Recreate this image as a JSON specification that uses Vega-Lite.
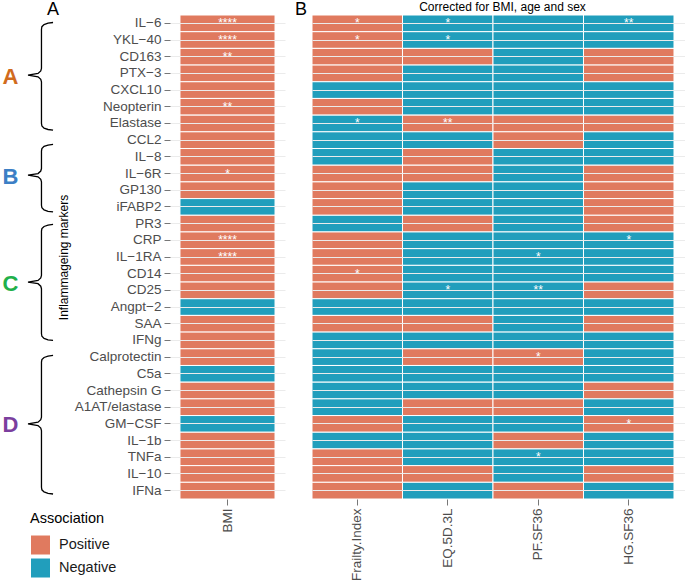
{
  "$schema": "https://vega.github.io/schema/vega-lite/v6.json",
  "padding": {"left": 0, "top": 0, "right": 0, "bottom": 0},
  "bounds": "flush",
  "spacing": 27,
  "config": {"view": {"stroke": null}, "font": "Liberation Sans"},
  "resolve": {"scale": {"color": "shared", "x": "independent", "y": "independent"}},
  "datasets": {
    "cells": [
      {"m":"IL−6","v":"BMI","a":"Positive","s":"****"},
      {"m":"YKL−40","v":"BMI","a":"Positive","s":"****"},
      {"m":"CD163","v":"BMI","a":"Positive","s":"**"},
      {"m":"PTX−3","v":"BMI","a":"Positive"},
      {"m":"CXCL10","v":"BMI","a":"Positive"},
      {"m":"Neopterin","v":"BMI","a":"Positive","s":"**"},
      {"m":"Elastase","v":"BMI","a":"Positive"},
      {"m":"CCL2","v":"BMI","a":"Positive"},
      {"m":"IL−8","v":"BMI","a":"Positive"},
      {"m":"IL−6R","v":"BMI","a":"Positive","s":"*"},
      {"m":"GP130","v":"BMI","a":"Positive"},
      {"m":"iFABP2","v":"BMI","a":"Negative"},
      {"m":"PR3","v":"BMI","a":"Positive"},
      {"m":"CRP","v":"BMI","a":"Positive","s":"****"},
      {"m":"IL−1RA","v":"BMI","a":"Positive","s":"****"},
      {"m":"CD14","v":"BMI","a":"Positive"},
      {"m":"CD25","v":"BMI","a":"Positive"},
      {"m":"Angpt−2","v":"BMI","a":"Negative"},
      {"m":"SAA","v":"BMI","a":"Positive"},
      {"m":"IFNg","v":"BMI","a":"Positive"},
      {"m":"Calprotectin","v":"BMI","a":"Positive"},
      {"m":"C5a","v":"BMI","a":"Negative"},
      {"m":"Cathepsin G","v":"BMI","a":"Positive"},
      {"m":"A1AT/elastase","v":"BMI","a":"Positive"},
      {"m":"GM−CSF","v":"BMI","a":"Negative"},
      {"m":"IL−1b","v":"BMI","a":"Positive"},
      {"m":"TNFa","v":"BMI","a":"Positive"},
      {"m":"IL−10","v":"BMI","a":"Positive"},
      {"m":"IFNa","v":"BMI","a":"Positive"},

      {"m":"IL−6","v":"Frailty.Index","a":"Positive","s":"*"},
      {"m":"IL−6","v":"EQ.5D.3L","a":"Negative","s":"*"},
      {"m":"IL−6","v":"PF.SF36","a":"Negative"},
      {"m":"IL−6","v":"HG.SF36","a":"Negative","s":"**"},
      {"m":"YKL−40","v":"Frailty.Index","a":"Positive","s":"*"},
      {"m":"YKL−40","v":"EQ.5D.3L","a":"Negative","s":"*"},
      {"m":"YKL−40","v":"PF.SF36","a":"Negative"},
      {"m":"YKL−40","v":"HG.SF36","a":"Negative"},
      {"m":"CD163","v":"Frailty.Index","a":"Positive"},
      {"m":"CD163","v":"EQ.5D.3L","a":"Positive"},
      {"m":"CD163","v":"PF.SF36","a":"Negative"},
      {"m":"CD163","v":"HG.SF36","a":"Positive"},
      {"m":"PTX−3","v":"Frailty.Index","a":"Positive"},
      {"m":"PTX−3","v":"EQ.5D.3L","a":"Negative"},
      {"m":"PTX−3","v":"PF.SF36","a":"Negative"},
      {"m":"PTX−3","v":"HG.SF36","a":"Positive"},
      {"m":"CXCL10","v":"Frailty.Index","a":"Negative"},
      {"m":"CXCL10","v":"EQ.5D.3L","a":"Negative"},
      {"m":"CXCL10","v":"PF.SF36","a":"Negative"},
      {"m":"CXCL10","v":"HG.SF36","a":"Negative"},
      {"m":"Neopterin","v":"Frailty.Index","a":"Positive"},
      {"m":"Neopterin","v":"EQ.5D.3L","a":"Negative"},
      {"m":"Neopterin","v":"PF.SF36","a":"Negative"},
      {"m":"Neopterin","v":"HG.SF36","a":"Negative"},
      {"m":"Elastase","v":"Frailty.Index","a":"Negative","s":"*"},
      {"m":"Elastase","v":"EQ.5D.3L","a":"Positive","s":"**"},
      {"m":"Elastase","v":"PF.SF36","a":"Positive"},
      {"m":"Elastase","v":"HG.SF36","a":"Positive"},
      {"m":"CCL2","v":"Frailty.Index","a":"Negative"},
      {"m":"CCL2","v":"EQ.5D.3L","a":"Negative"},
      {"m":"CCL2","v":"PF.SF36","a":"Positive"},
      {"m":"CCL2","v":"HG.SF36","a":"Negative"},
      {"m":"IL−8","v":"Frailty.Index","a":"Negative"},
      {"m":"IL−8","v":"EQ.5D.3L","a":"Positive"},
      {"m":"IL−8","v":"PF.SF36","a":"Negative"},
      {"m":"IL−8","v":"HG.SF36","a":"Negative"},
      {"m":"IL−6R","v":"Frailty.Index","a":"Positive"},
      {"m":"IL−6R","v":"EQ.5D.3L","a":"Positive"},
      {"m":"IL−6R","v":"PF.SF36","a":"Negative"},
      {"m":"IL−6R","v":"HG.SF36","a":"Positive"},
      {"m":"GP130","v":"Frailty.Index","a":"Positive"},
      {"m":"GP130","v":"EQ.5D.3L","a":"Negative"},
      {"m":"GP130","v":"PF.SF36","a":"Negative"},
      {"m":"GP130","v":"HG.SF36","a":"Positive"},
      {"m":"iFABP2","v":"Frailty.Index","a":"Positive"},
      {"m":"iFABP2","v":"EQ.5D.3L","a":"Negative"},
      {"m":"iFABP2","v":"PF.SF36","a":"Negative"},
      {"m":"iFABP2","v":"HG.SF36","a":"Positive"},
      {"m":"PR3","v":"Frailty.Index","a":"Negative"},
      {"m":"PR3","v":"EQ.5D.3L","a":"Positive"},
      {"m":"PR3","v":"PF.SF36","a":"Negative"},
      {"m":"PR3","v":"HG.SF36","a":"Positive"},
      {"m":"CRP","v":"Frailty.Index","a":"Positive"},
      {"m":"CRP","v":"EQ.5D.3L","a":"Negative"},
      {"m":"CRP","v":"PF.SF36","a":"Negative"},
      {"m":"CRP","v":"HG.SF36","a":"Negative","s":"*"},
      {"m":"IL−1RA","v":"Frailty.Index","a":"Positive"},
      {"m":"IL−1RA","v":"EQ.5D.3L","a":"Negative"},
      {"m":"IL−1RA","v":"PF.SF36","a":"Negative","s":"*"},
      {"m":"IL−1RA","v":"HG.SF36","a":"Negative"},
      {"m":"CD14","v":"Frailty.Index","a":"Positive","s":"*"},
      {"m":"CD14","v":"EQ.5D.3L","a":"Negative"},
      {"m":"CD14","v":"PF.SF36","a":"Negative"},
      {"m":"CD14","v":"HG.SF36","a":"Negative"},
      {"m":"CD25","v":"Frailty.Index","a":"Positive"},
      {"m":"CD25","v":"EQ.5D.3L","a":"Negative","s":"*"},
      {"m":"CD25","v":"PF.SF36","a":"Negative","s":"**"},
      {"m":"CD25","v":"HG.SF36","a":"Positive"},
      {"m":"Angpt−2","v":"Frailty.Index","a":"Negative"},
      {"m":"Angpt−2","v":"EQ.5D.3L","a":"Negative"},
      {"m":"Angpt−2","v":"PF.SF36","a":"Negative"},
      {"m":"Angpt−2","v":"HG.SF36","a":"Negative"},
      {"m":"SAA","v":"Frailty.Index","a":"Positive"},
      {"m":"SAA","v":"EQ.5D.3L","a":"Positive"},
      {"m":"SAA","v":"PF.SF36","a":"Negative"},
      {"m":"SAA","v":"HG.SF36","a":"Positive"},
      {"m":"IFNg","v":"Frailty.Index","a":"Negative"},
      {"m":"IFNg","v":"EQ.5D.3L","a":"Negative"},
      {"m":"IFNg","v":"PF.SF36","a":"Negative"},
      {"m":"IFNg","v":"HG.SF36","a":"Negative"},
      {"m":"Calprotectin","v":"Frailty.Index","a":"Negative"},
      {"m":"Calprotectin","v":"EQ.5D.3L","a":"Positive"},
      {"m":"Calprotectin","v":"PF.SF36","a":"Positive","s":"*"},
      {"m":"Calprotectin","v":"HG.SF36","a":"Negative"},
      {"m":"C5a","v":"Frailty.Index","a":"Negative"},
      {"m":"C5a","v":"EQ.5D.3L","a":"Negative"},
      {"m":"C5a","v":"PF.SF36","a":"Negative"},
      {"m":"C5a","v":"HG.SF36","a":"Negative"},
      {"m":"Cathepsin G","v":"Frailty.Index","a":"Negative"},
      {"m":"Cathepsin G","v":"EQ.5D.3L","a":"Negative"},
      {"m":"Cathepsin G","v":"PF.SF36","a":"Negative"},
      {"m":"Cathepsin G","v":"HG.SF36","a":"Positive"},
      {"m":"A1AT/elastase","v":"Frailty.Index","a":"Negative"},
      {"m":"A1AT/elastase","v":"EQ.5D.3L","a":"Positive"},
      {"m":"A1AT/elastase","v":"PF.SF36","a":"Positive"},
      {"m":"A1AT/elastase","v":"HG.SF36","a":"Negative"},
      {"m":"GM−CSF","v":"Frailty.Index","a":"Positive"},
      {"m":"GM−CSF","v":"EQ.5D.3L","a":"Negative"},
      {"m":"GM−CSF","v":"PF.SF36","a":"Negative"},
      {"m":"GM−CSF","v":"HG.SF36","a":"Positive","s":"*"},
      {"m":"IL−1b","v":"Frailty.Index","a":"Negative"},
      {"m":"IL−1b","v":"EQ.5D.3L","a":"Negative"},
      {"m":"IL−1b","v":"PF.SF36","a":"Positive"},
      {"m":"IL−1b","v":"HG.SF36","a":"Negative"},
      {"m":"TNFa","v":"Frailty.Index","a":"Positive"},
      {"m":"TNFa","v":"EQ.5D.3L","a":"Negative"},
      {"m":"TNFa","v":"PF.SF36","a":"Negative","s":"*"},
      {"m":"TNFa","v":"HG.SF36","a":"Negative"},
      {"m":"IL−10","v":"Frailty.Index","a":"Positive"},
      {"m":"IL−10","v":"EQ.5D.3L","a":"Positive"},
      {"m":"IL−10","v":"PF.SF36","a":"Negative"},
      {"m":"IL−10","v":"HG.SF36","a":"Positive"},
      {"m":"IFNa","v":"Frailty.Index","a":"Positive"},
      {"m":"IFNa","v":"EQ.5D.3L","a":"Negative"},
      {"m":"IFNa","v":"PF.SF36","a":"Positive"},
      {"m":"IFNa","v":"HG.SF36","a":"Negative"}
    ],
    "braces": [
      {"g":"A","o":1,"x":0.371,"y":0.45},{"g":"A","o":2,"x":0.336,"y":0.49},{"g":"A","o":3,"x":0.308,"y":0.57},{"g":"A","o":4,"x":0.293,"y":0.7},{"g":"A","o":5,"x":0.29,"y":0.85},{"g":"A","o":6,"x":0.29,"y":3.2},{"g":"A","o":7,"x":0.285,"y":3.35},{"g":"A","o":8,"x":0.266,"y":3.5},{"g":"A","o":9,"x":0.196,"y":3.6},{"g":"A","o":10,"x":0.266,"y":3.7},{"g":"A","o":11,"x":0.285,"y":3.85},{"g":"A","o":12,"x":0.29,"y":4.0},{"g":"A","o":13,"x":0.29,"y":6.5},{"g":"A","o":14,"x":0.293,"y":6.65},{"g":"A","o":15,"x":0.308,"y":6.78},{"g":"A","o":16,"x":0.336,"y":6.86},{"g":"A","o":17,"x":0.371,"y":6.9},
      {"g":"B","o":1,"x":0.371,"y":7.75},{"g":"B","o":2,"x":0.336,"y":7.79},{"g":"B","o":3,"x":0.308,"y":7.87},{"g":"B","o":4,"x":0.293,"y":8.0},{"g":"B","o":5,"x":0.29,"y":8.15},{"g":"B","o":6,"x":0.29,"y":9.2},{"g":"B","o":7,"x":0.285,"y":9.35},{"g":"B","o":8,"x":0.266,"y":9.5},{"g":"B","o":9,"x":0.196,"y":9.6},{"g":"B","o":10,"x":0.266,"y":9.7},{"g":"B","o":11,"x":0.285,"y":9.85},{"g":"B","o":12,"x":0.29,"y":10.0},{"g":"B","o":13,"x":0.29,"y":11.4},{"g":"B","o":14,"x":0.293,"y":11.55},{"g":"B","o":15,"x":0.308,"y":11.68},{"g":"B","o":16,"x":0.336,"y":11.76},{"g":"B","o":17,"x":0.371,"y":11.8},
      {"g":"C","o":1,"x":0.371,"y":12.55},{"g":"C","o":2,"x":0.336,"y":12.59},{"g":"C","o":3,"x":0.308,"y":12.67},{"g":"C","o":4,"x":0.293,"y":12.8},{"g":"C","o":5,"x":0.29,"y":12.95},{"g":"C","o":6,"x":0.29,"y":15.6},{"g":"C","o":7,"x":0.285,"y":15.75},{"g":"C","o":8,"x":0.266,"y":15.9},{"g":"C","o":9,"x":0.196,"y":16.0},{"g":"C","o":10,"x":0.266,"y":16.1},{"g":"C","o":11,"x":0.285,"y":16.25},{"g":"C","o":12,"x":0.29,"y":16.4},{"g":"C","o":13,"x":0.29,"y":19.1},{"g":"C","o":14,"x":0.293,"y":19.25},{"g":"C","o":15,"x":0.308,"y":19.38},{"g":"C","o":16,"x":0.336,"y":19.46},{"g":"C","o":17,"x":0.371,"y":19.5},
      {"g":"D","o":1,"x":0.371,"y":20.4},{"g":"D","o":2,"x":0.336,"y":20.44},{"g":"D","o":3,"x":0.308,"y":20.52},{"g":"D","o":4,"x":0.293,"y":20.65},{"g":"D","o":5,"x":0.29,"y":20.8},{"g":"D","o":6,"x":0.29,"y":24.1},{"g":"D","o":7,"x":0.285,"y":24.25},{"g":"D","o":8,"x":0.266,"y":24.4},{"g":"D","o":9,"x":0.196,"y":24.5},{"g":"D","o":10,"x":0.266,"y":24.6},{"g":"D","o":11,"x":0.285,"y":24.75},{"g":"D","o":12,"x":0.29,"y":24.9},{"g":"D","o":13,"x":0.29,"y":28.3},{"g":"D","o":14,"x":0.293,"y":28.45},{"g":"D","o":15,"x":0.308,"y":28.58},{"g":"D","o":16,"x":0.336,"y":28.66},{"g":"D","o":17,"x":0.371,"y":28.7}
    ],
    "letters": [
      {"t":"A","x":0.073,"y":3.7},
      {"t":"B","x":0.073,"y":9.7},
      {"t":"C","x":0.073,"y":16.1},
      {"t":"D","x":0.073,"y":24.55}
    ],
    "panel": [
      {"t":"A","x":0.371,"y":-0.27},
      {"t":"B","x":2.105,"y":-0.27}
    ]
  },
  "hconcat": [
    {
      "width": 143,
      "height": 484,
      "layer": [
        {
          "data": {"name": "braces"},
          "mark": {"type": "line", "stroke": "black", "strokeWidth": 1.3},
          "encoding": {
            "x": {"field": "x", "type": "quantitative", "scale": {"domain": [0, 1], "nice": false, "zero": false}, "axis": null},
            "y": {"field": "y", "type": "quantitative", "scale": {"domain": [0, 29], "reverse": true, "nice": false, "zero": false}, "axis": null},
            "detail": {"field": "g", "type": "nominal"},
            "order": {"field": "o", "type": "quantitative"}
          }
        },
        {
          "data": {"name": "letters"},
          "mark": {"type": "text", "fontSize": 22, "fontWeight": "bold", "baseline": "middle", "align": "center"},
          "encoding": {
            "x": {"field": "x", "type": "quantitative", "scale": {"domain": [0, 1], "nice": false, "zero": false}, "axis": null},
            "y": {"field": "y", "type": "quantitative", "scale": {"domain": [0, 29], "reverse": true, "nice": false, "zero": false}, "axis": null},
            "text": {"field": "t"},
            "fill": {"field": "t", "type": "nominal", "scale": {"domain": ["A", "B", "C", "D"], "range": ["#D16B1D", "#3C7FC5", "#1FB04B", "#7B3F9E"]}, "legend": null}
          }
        },
        {
          "data": {"name": "panel"},
          "mark": {"type": "text", "fontSize": 18, "baseline": "middle", "align": "center", "color": "black"},
          "encoding": {
            "x": {"field": "x", "type": "quantitative", "scale": {"domain": [0, 1], "nice": false, "zero": false}, "axis": null},
            "y": {"field": "y", "type": "quantitative", "scale": {"domain": [0, 29], "reverse": true, "nice": false, "zero": false}, "axis": null},
            "text": {"field": "t"}
          }
        }
      ]
    },
    {
      "width": 115,
      "height": 484,
      "data": {"name": "cells"},
      "transform": [{"filter": "datum.v === 'BMI'"}],
      "encoding": {
        "y": {
          "field": "m", "type": "nominal",
          "scale": {"domain": ["IL−6","YKL−40","CD163","PTX−3","CXCL10","Neopterin","Elastase","CCL2","IL−8","IL−6R","GP130","iFABP2","PR3","CRP","IL−1RA","CD14","CD25","Angpt−2","SAA","IFNg","Calprotectin","C5a","Cathepsin G","A1AT/elastase","GM−CSF","IL−1b","TNFa","IL−10","IFNa"], "paddingInner": 0, "paddingOuter": 0},
          "axis": {
            "title": "Inflammageing markers", "titleFontSize": 12, "titleFontWeight": "normal", "titleColor": "black",
            "titleX": -107, "titleBaseline": "middle",
            "labelFontSize": 13.5, "labelColor": "#4D4D4D", "labelPadding": 3,
            "tickSize": 6, "tickColor": "#777777", "domain": false,
            "grid": true, "gridColor": "#EBEBEB"
          }
        },
        "x": {
          "field": "v", "type": "nominal",
          "scale": {"paddingInner": 0, "paddingOuter": 0.105},
          "axis": {
            "title": null, "labelAngle": -90, "labelAlign": "right", "labelBaseline": "middle",
            "labelFontSize": 13.5, "labelColor": "#4D4D4D", "labelPadding": 3,
            "tickSize": 6, "tickColor": "#777777", "domain": false, "grid": false
          }
        }
      },
      "layer": [
        {
          "mark": {"type": "rect", "stroke": "white", "strokeWidth": 1},
          "encoding": {
            "color": {
              "field": "a", "type": "nominal",
              "scale": {"domain": ["Positive", "Negative"], "range": ["#E07A5F", "#219EBC"]},
              "legend": {
                "title": "Association", "orient": "none", "legendX": 30, "legendY": 497,
                "titleFontSize": 14.5, "titleFontWeight": "normal", "titleColor": "black",
                "labelFontSize": 14.5, "labelColor": "#1A1A1A",
                "symbolType": "square", "symbolSize": 400, "symbolStrokeColor": "white", "symbolStrokeWidth": 1,
                "symbolOpacity": 1, "rowPadding": -4, "titlePadding": 8, "labelOffset": 8
              }
            }
          }
        },
        {
          "transform": [{"filter": "datum.s"}],
          "mark": {"type": "text", "color": "white", "fontSize": 12, "baseline": "middle", "align": "center"},
          "encoding": {"text": {"field": "s"}}
        }
      ]
    },
    {
      "width": 373,
      "height": 484,
      "title": {"text": "Corrected for BMI, age and sex", "fontSize": 12, "fontWeight": "normal", "color": "black", "anchor": "middle", "dx": 4, "offset": 1},
      "data": {"name": "cells"},
      "transform": [{"filter": "datum.v !== 'BMI'"}],
      "encoding": {
        "y": {
          "field": "m", "type": "nominal",
          "scale": {"domain": ["IL−6","YKL−40","CD163","PTX−3","CXCL10","Neopterin","Elastase","CCL2","IL−8","IL−6R","GP130","iFABP2","PR3","CRP","IL−1RA","CD14","CD25","Angpt−2","SAA","IFNg","Calprotectin","C5a","Cathepsin G","A1AT/elastase","GM−CSF","IL−1b","TNFa","IL−10","IFNa"], "paddingInner": 0, "paddingOuter": 0},
          "axis": {
            "title": null,
            "labels": false, "ticks": false, "domain": false,
            "grid": true, "gridColor": "#EBEBEB"
          }
        },
        "x": {
          "field": "v", "type": "nominal",
          "scale": {"domain": ["Frailty.Index", "EQ.5D.3L", "PF.SF36", "HG.SF36"], "paddingInner": 0, "paddingOuter": 0.0608, "align": 0},
          "axis": {
            "title": null, "labelAngle": -90, "labelAlign": "right", "labelBaseline": "middle",
            "labelFontSize": 13.5, "labelColor": "#4D4D4D", "labelPadding": 3,
            "tickSize": 6, "tickColor": "#777777", "domain": false, "grid": false
          }
        }
      },
      "layer": [
        {
          "mark": {"type": "rect", "stroke": "white", "strokeWidth": 1},
          "encoding": {
            "color": {
              "field": "a", "type": "nominal",
              "scale": {"domain": ["Positive", "Negative"], "range": ["#E07A5F", "#219EBC"]},
              "legend": {
                "title": "Association", "orient": "none", "legendX": 30, "legendY": 497,
                "titleFontSize": 14.5, "titleFontWeight": "normal", "titleColor": "black",
                "labelFontSize": 14.5, "labelColor": "#1A1A1A",
                "symbolType": "square", "symbolSize": 400, "symbolStrokeColor": "white", "symbolStrokeWidth": 1,
                "symbolOpacity": 1, "rowPadding": -4, "titlePadding": 8, "labelOffset": 8
              }
            }
          }
        },
        {
          "transform": [{"filter": "datum.s"}],
          "mark": {"type": "text", "color": "white", "fontSize": 12, "baseline": "middle", "align": "center"},
          "encoding": {"text": {"field": "s"}}
        }
      ]
    }
  ]
}
